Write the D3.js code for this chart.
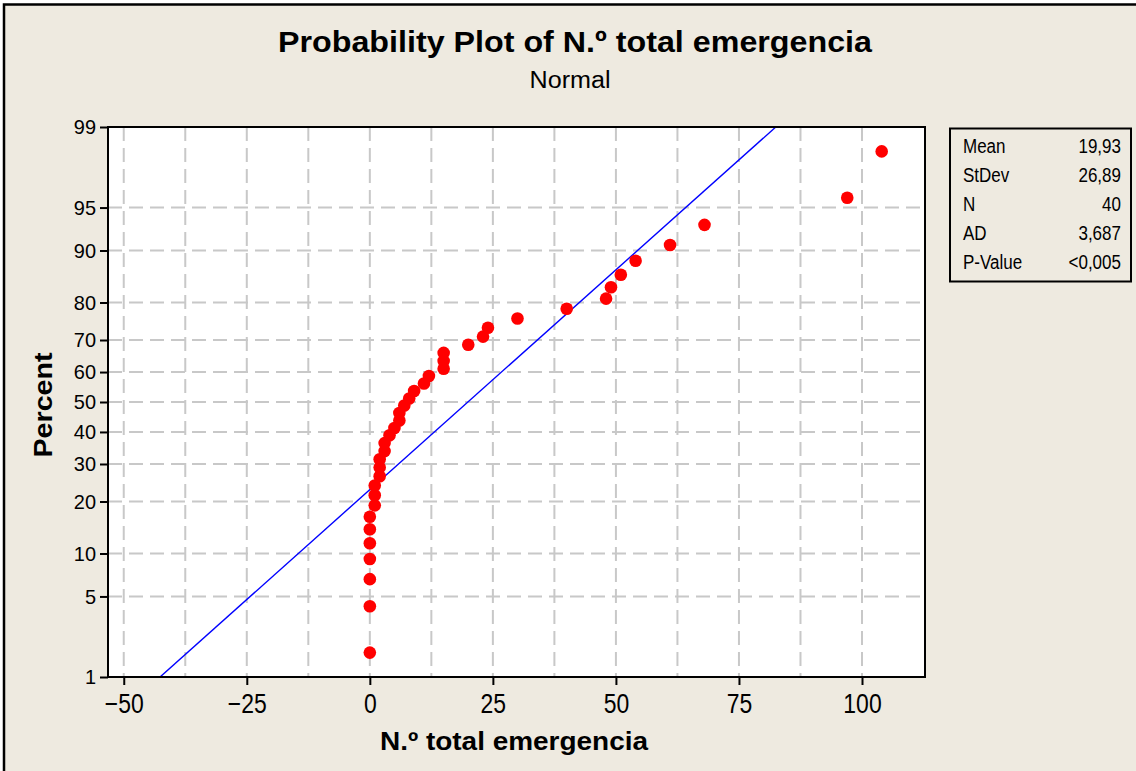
<!DOCTYPE html>
<html>
<head>
<meta charset="utf-8">
<script src="https://cdn.jsdelivr.net/npm/d3@7"></script>
<style>
  html, body { margin: 0; padding: 0; background: #ffffff; }
  svg { display: block; }
  text { font-family: "Liberation Sans", Arial, sans-serif; fill: #000; }
</style>
</head>
<body>
<svg id="screen" width="1136" height="771"></svg>
<script>
const screenEl = document.querySelector("#screen");

//data (sorted sample, N = 40)
const values = [0,0,0,0,0,0,0,1,1,1,2,2,2,3,3,4,5,6,6,7,
                8,9,11,12,15,15,15,20,23,24,30,40,48,49,51,54,61,68,97,104];
// plotting positions
const percents = [1.7,4.2,6.7,9.2,11.6,14.1,16.6,19.1,21.5,24.0,
                  26.5,29.0,31.4,33.9,36.4,38.9,41.3,43.8,46.3,48.8,
                  51.2,53.7,56.2,58.7,61.1,63.6,66.1,68.6,71.0,73.5,
                  76.0,78.5,80.9,83.4,85.9,88.4,90.8,93.3,95.8,98.3];
const fitPercents = [1, 99];
const fitMean = 19.93, fitSd = 26.89;

const statLabels = ["Mean","StDev","N","AD","P-Value"];
const statValues = ["19,93","26,89","40","3,687","<0,005"];

const xTicks = [-50,-25,0,25,50,75,100];
const yTicks = [1,5,10,20,30,40,50,60,70,80,90,95,99];

//settings
const bg = "#EEEAE0";
const plot = {left:108, right:925, top:127, bottom:677};

// inverse normal cdf (Acklam)
function probit(p){
    const a=[-39.69683028665376,220.9460984245205,-275.9285104469687,138.3577518672690,-30.66479806614716,2.506628277459239];
    const b=[-54.47609879822406,161.5858368580409,-155.6989798598866,66.80131188771972,-13.28068155288572];
    const c=[-0.007784894002430293,-0.3223964580411365,-2.400758277161838,-2.549732539343734,4.374664141464968,2.938163982698783];
    const d=[0.007784695709041462,0.3224671290700398,2.445134137142996,3.754408661907416];
    const pl=0.02425;
    let q,r;
    if(p<pl){
        q=Math.sqrt(-2*Math.log(p));
        return (((((c[0]*q+c[1])*q+c[2])*q+c[3])*q+c[4])*q+c[5])/((((d[0]*q+d[1])*q+d[2])*q+d[3])*q+1);
    }
    if(p>1-pl){
        q=Math.sqrt(-2*Math.log(1-p));
        return -(((((c[0]*q+c[1])*q+c[2])*q+c[3])*q+c[4])*q+c[5])/((((d[0]*q+d[1])*q+d[2])*q+d[3])*q+1);
    }
    q=p-0.5; r=q*q;
    return (((((a[0]*r+a[1])*r+a[2])*r+a[3])*r+a[4])*r+a[5])*q/(((((b[0]*r+b[1])*r+b[2])*r+b[3])*r+b[4])*r+1);
}

const svg = d3.select(screenEl);

// squeeze text to a width (Minitab fonts are narrow)
function squeeze(sel, k){
    sel.each(function(){
        const w = this.getComputedTextLength();
        d3.select(this).attr("textLength", w*k).attr("lengthAdjust","spacingAndGlyphs");
    });
}

//background + frame
svg.append("rect").attr("x",4).attr("y",4.5).attr("width",1140).attr("height",780)
.attr("fill",bg).attr("stroke","#000").attr("stroke-width",2.5);

//scales
const x = d3.scaleLinear().domain([-53.2,112.8]).range([plot.left,plot.right]);
const y = d3.scaleLinear().domain([probit(0.01),probit(0.99)]).range([plot.bottom,plot.top]);
const yp = p => y(probit(p/100));

svg.append("rect").attr("x",plot.left).attr("y",plot.top)
.attr("width",plot.right-plot.left).attr("height",plot.bottom-plot.top).attr("fill","#fff");

//grid
const grid = svg.append("g").attr("stroke","#c8c8c8").attr("stroke-width",2).attr("stroke-dasharray","14,7");
grid.selectAll("line.v").data(d3.range(-50,100.1,12.5)).enter().append("line")
.attr("x1",d=>x(d)).attr("x2",d=>x(d)).attr("y1",plot.top).attr("y2",plot.bottom);
grid.selectAll("line.h").data(yTicks.slice(1,-1)).enter().append("line")
.attr("y1",d=>yp(d)).attr("y2",d=>yp(d)).attr("x1",plot.left).attr("x2",plot.right);

//fitted line
svg.append("clipPath").attr("id","plotclip").append("rect")
.attr("x",plot.left).attr("y",plot.top).attr("width",plot.right-plot.left).attr("height",plot.bottom-plot.top);
svg.append("path").attr("clip-path","url(#plotclip)")
.datum(fitPercents)
.attr("d",d3.line().x(p=>x(fitMean+probit(p/100)*fitSd)).y(p=>yp(p)))
.attr("stroke","#0000ff").attr("stroke-width",1.4).attr("fill","none");

//points
svg.append("g").selectAll("circle").data(values).enter().append("circle")
.attr("cx",d=>x(d)).attr("cy",(d,i)=>yp(percents[i])).attr("r",6.3).attr("fill","#ff0000");

//frame
svg.append("rect").attr("x",plot.left).attr("y",plot.top)
.attr("width",plot.right-plot.left).attr("height",plot.bottom-plot.top)
.attr("fill","none").attr("stroke","#000").attr("stroke-width",2);

//axes
const xAxis = svg.append("g").attr("transform","translate(0,"+plot.bottom+")")
.call(d3.axisBottom(x).tickValues(xTicks).tickSize(8).tickPadding(9).tickSizeOuter(0));
xAxis.select(".domain").remove();
xAxis.selectAll("line").attr("stroke","#000").attr("stroke-width",2);
xAxis.selectAll("text").attr("font-size",27).attr("font-family","Liberation Sans, Arial, sans-serif").call(squeeze,0.85);

const yAxis = svg.append("g").attr("transform","translate("+plot.left+",0)")
.call(d3.axisLeft(y).tickValues(yTicks.map(p=>probit(p/100))).tickFormat((d,i)=>yTicks[i])
.tickSize(8).tickPadding(4).tickSizeOuter(0));
yAxis.select(".domain").remove();
yAxis.selectAll("line").attr("stroke","#000").attr("stroke-width",2);
yAxis.selectAll("text").attr("font-size",21).attr("font-family","Liberation Sans, Arial, sans-serif").call(squeeze,0.95);

//titles
svg.append("text").attr("x",575).attr("y",52).attr("text-anchor","middle")
.attr("font-size",30).attr("font-weight","bold")
.attr("textLength",594).attr("lengthAdjust","spacingAndGlyphs")
.text("Probability Plot of N.º total emergencia");
svg.append("text").attr("x",570).attr("y",88).attr("text-anchor","middle")
.attr("font-size",23).attr("textLength",81).attr("lengthAdjust","spacingAndGlyphs")
.text("Normal");
svg.append("text").attr("x",514).attr("y",750).attr("text-anchor","middle")
.attr("font-size",26).attr("font-weight","bold")
.attr("textLength",268).attr("lengthAdjust","spacingAndGlyphs")
.text("N.º total emergencia");
svg.append("text").attr("transform","translate(52,405) rotate(-90)").attr("text-anchor","middle")
.attr("font-size",26).attr("font-weight","bold")
.attr("textLength",105).attr("lengthAdjust","spacingAndGlyphs")
.text("Percent");

//stats box
svg.append("rect").attr("x",950).attr("y",128.5).attr("width",181).attr("height",153)
.attr("fill",bg).attr("stroke","#000").attr("stroke-width",2);
const rows = svg.append("g").selectAll("g").data(statLabels).enter().append("g")
.attr("transform",(d,i)=>"translate(0,"+(153+i*29)+")");
rows.append("text").attr("x",963).attr("font-size",20).text(d=>d).call(squeeze,0.85);
rows.append("text").attr("x",1121).attr("text-anchor","end").attr("font-size",20)
.text((d,i)=>statValues[i]).call(squeeze,0.85);
</script>
</body>
</html>
